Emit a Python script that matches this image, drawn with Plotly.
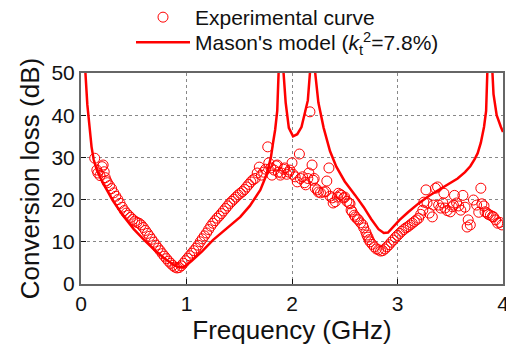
import plotly.graph_objects as go

# Experimental curve (frequency in GHz, conversion loss in dB)
exp_f = [0.13, 0.15, 0.16, 0.18, 0.20, 0.21, 0.22, 0.23, 0.24,
         0.25, 0.27, 0.29, 0.31, 0.33, 0.35, 0.37, 0.39, 0.41, 0.43, 0.45, 0.47, 0.49,
         0.51, 0.53, 0.55, 0.57, 0.59, 0.61, 0.63, 0.65, 0.67, 0.69, 0.71, 0.73, 0.75,
         0.77, 0.79, 0.81, 0.83, 0.85, 0.87, 0.89, 0.91, 0.93, 0.95, 0.97, 0.99, 1.01,
         1.03, 1.05, 1.07, 1.09, 1.11, 1.13, 1.15, 1.17, 1.19, 1.21, 1.23, 1.25, 1.27,
         1.29, 1.31, 1.33, 1.35, 1.37, 1.39, 1.41, 1.43, 1.45, 1.47, 1.49, 1.51, 1.53,
         1.55, 1.57, 1.59, 1.61, 1.63, 1.65, 1.67, 1.69, 1.71, 1.73,
         1.75, 1.77, 1.78, 1.80, 1.81, 1.83, 1.85, 1.86, 1.87, 1.89, 1.90, 1.92, 1.93,
         1.95, 1.97, 1.98, 2.00, 2.01, 2.03, 2.05, 2.07, 2.08, 2.10, 2.12, 2.13, 2.15,
         2.16, 2.17, 2.19, 2.20, 2.21, 2.22, 2.24, 2.25, 2.27, 2.30, 2.32, 2.33, 2.35,
         2.36, 2.38, 2.39, 2.41, 2.43, 2.44, 2.46, 2.47, 2.49, 2.50, 2.52, 2.54, 2.55,
         2.56, 2.57, 2.59, 2.60, 2.62, 2.63, 2.65, 2.67, 2.68, 2.70, 2.71, 2.72, 2.73,
         2.74, 2.76, 2.78, 2.80, 2.82, 2.84, 2.86, 2.88, 2.90, 2.92, 2.94, 2.96, 2.98,
         3.00, 3.02, 3.04, 3.06, 3.08, 3.10, 3.12, 3.14, 3.16, 3.18, 3.20, 3.22, 3.24,
         3.25, 3.27, 3.28, 3.30, 3.33, 3.34, 3.36, 3.38, 3.39, 3.41, 3.43, 3.44, 3.45,
         3.47, 3.50, 3.52, 3.53, 3.54, 3.56, 3.58, 3.60, 3.62, 3.64, 3.66, 3.67, 3.69,
         3.72, 3.75, 3.77, 3.79, 3.80, 3.82, 3.83, 3.85, 3.86, 3.88, 3.90, 3.91, 3.93,
         3.95, 3.97, 3.99]
exp_db = [29.8, 27.0, 26.3, 25.7, 27.8, 28.2, 26.6, 25.2, 24.5,
          24.0, 23.3, 22.6, 21.6, 20.8, 20.0, 19.1, 18.2, 17.4, 16.8, 16.3, 15.8, 15.3,
          14.9, 14.6, 14.4, 14.0, 13.4, 12.7, 12.0, 11.3, 10.6, 9.9, 9.2, 8.5, 7.9,
          7.2, 6.6, 6.0, 5.4, 4.9, 4.4, 4.0, 3.8, 3.9, 4.3, 4.9, 5.5, 6.1,
          6.7, 7.3, 7.9, 8.5, 9.2, 10.0, 10.7, 11.4, 12.1, 12.9, 13.7, 14.4, 15.0,
          15.6, 16.1, 16.7, 17.3, 17.9, 18.5, 19.1, 19.6, 20.1, 20.6, 21.1, 21.5, 21.9,
          22.4, 23.0, 23.6, 24.2, 24.7, 25.0, 26.3, 27.7, 25.8, 26.5,
          27.2, 32.5, 28.7, 27.5, 25.8, 27.0, 28.0, 28.2, 26.5, 25.8, 26.3, 27.2, 27.5,
          26.0, 26.5, 27.0, 28.7, 26.0, 25.4, 24.2, 30.8, 25.0, 25.4, 24.0, 23.5, 25.0,
          26.3, 40.8, 28.2, 24.6, 25.0, 22.7, 22.3, 21.8, 21.6, 21.8, 21.9, 24.4, 27.5,
          20.8, 20.4, 19.2, 19.5, 20.6, 21.5, 21.2, 21.0, 20.4, 20.6, 19.6, 19.2, 19.0,
          17.5, 17.1, 16.3, 15.9, 15.4, 15.2, 14.5, 14.0, 13.3, 12.3, 11.6, 11.1, 10.5,
          10.0, 9.4, 8.8, 8.3, 8.1, 7.8, 7.9, 8.3, 8.8, 9.3, 9.9, 10.4, 11.0,
          11.5, 12.0, 12.5, 12.9, 13.3, 13.6, 14.0, 14.4, 14.8, 15.2, 15.6, 16.5, 17.5,
          19.4, 22.3, 19.2, 16.8, 15.9, 18.7, 22.7, 23.0, 18.7, 18.0, 19.2, 21.5, 18.0,
          17.4, 17.1, 18.3, 18.7, 21.0, 19.2, 18.5, 17.5, 21.0, 18.2, 13.5, 15.2, 14.0,
          19.9, 18.7, 17.0, 22.7, 19.0, 18.5, 17.1, 16.8, 16.5, 16.3, 16.0, 15.9, 15.2,
          14.4, 14.6, 14.0]

# Mason's model (kt^2 = 7.8 %)
model_f = [0.03, 0.04, 0.05, 0.06, 0.08, 0.10, 0.12, 0.15, 0.20, 0.25, 0.30, 0.40,
           0.50, 0.60, 0.70, 0.80, 0.88, 0.93, 0.98, 1.05, 1.15, 1.25, 1.35, 1.45,
           1.51, 1.60, 1.70, 1.76, 1.80, 1.82, 1.84, 1.86, 1.88, 1.89, 1.90, 1.91,
           1.92, 1.94, 1.97, 2.01, 2.05, 2.09, 2.13, 2.15, 2.17, 2.185, 2.195, 2.205,
           2.22, 2.25, 2.30, 2.36, 2.42, 2.50, 2.55, 2.60, 2.68, 2.75, 2.82, 2.87,
           2.91, 2.96, 3.02, 3.10, 3.20, 3.30, 3.40, 3.50, 3.57, 3.64, 3.69, 3.73,
           3.76, 3.79, 3.82, 3.84, 3.86, 3.87, 3.88, 3.89, 3.90, 3.91, 3.94, 3.98, 4.00]
model_db = [55.0, 50.0, 46.0, 42.5, 37.5, 32.5, 29.5, 27.0, 24.3, 22.0, 19.8, 16.2,
            13.0, 10.4, 8.0, 5.9, 4.5, 3.9, 4.1, 5.5, 7.8, 10.4, 12.6, 14.6,
            15.9, 18.5, 22.3, 26.0, 30.0, 33.4, 36.5, 41.0, 50.0, 62.0, 90.0, 62.0,
            50.0, 43.0, 37.0, 35.0, 35.5, 37.2, 41.0, 43.5, 50.0, 65.0, 90.0, 65.0,
            50.0, 43.0, 37.0, 31.5, 27.8, 24.3, 22.7, 21.0, 18.2, 15.4, 13.0, 12.1,
            12.2, 13.5, 15.2, 17.0, 19.1, 20.9, 22.4, 23.8, 25.0, 26.5, 27.9, 29.5,
            31.0, 33.5, 37.2, 41.0, 50.0, 65.0, 90.0, 65.0, 50.0, 45.0, 40.0, 37.2, 36.0]

x_ticks = [0, 1, 2, 3, 4]
y_ticks = [0, 10, 20, 30, 40, 50]

RED = "#ff0000"
FONT = "Liberation Sans, Arial, sans-serif"
TXT = "#111111"

# plot-area pixel geometry (used to place legends in paper coordinates)
L, R, T, B, W, H = 81, 3, 73, 65, 506, 349
PW, PH = W - L - R, H - T - B


def px_x(p):
    return (p - L) / PW


def px_y(p):
    return (H - B - p) / PH


fig = go.Figure()
fig.add_trace(go.Scatter(
    x=exp_f, y=exp_db, mode="markers", name="Experimental curve",
    marker=dict(symbol="circle-open", size=10, color=RED, line=dict(width=1, color=RED)),
    legend="legend",
))
fig.add_trace(go.Scatter(
    x=model_f, y=model_db, mode="lines",
    name="Mason's model (<i>k</i><sub>t</sub><sup>2</sup>=7.8%)",
    line=dict(color=RED, width=2.5),
    legend="legend2",
))

axis_common = dict(
    showline=True, linecolor="#666666", linewidth=2, mirror=True,
    ticks="inside", ticklen=5, tickcolor=TXT, tickwidth=1,
    showgrid=True, gridcolor="#888888", gridwidth=1, griddash="dot",
    zeroline=False, tickfont=dict(size=21, color=TXT, family=FONT),
    ticklabeloverflow="allow", automargin=False,
)

fig.update_xaxes(range=[0, 4], tickvals=x_ticks, ticktext=[str(v) for v in x_ticks],
                 title=dict(text="Frequency (GHz)", font=dict(size=26, color=TXT, family=FONT), standoff=6),
                 **axis_common)
fig.update_yaxes(range=[0, 50], tickvals=y_ticks, ticktext=[str(v) for v in y_ticks],
                 title=dict(text="Conversion loss (dB)", font=dict(size=26, color=TXT, family=FONT), standoff=4),
                 **axis_common)

leg_common = dict(xanchor="left", yanchor="top", bgcolor="rgba(0,0,0,0)", borderwidth=0,
                  font=dict(size=21, color=TXT, family=FONT), itemwidth=54)

fig.update_layout(
    width=W, height=H,
    margin=dict(l=L, r=R, t=T, b=B, autoexpand=False),
    paper_bgcolor="white", plot_bgcolor="white",
    showlegend=True,
    legend=dict(x=px_x(131), y=px_y(-3), **leg_common),
    legend2=dict(x=px_x(131), y=px_y(22), **leg_common),
    font=dict(family=FONT),
)

fig.write_html("out.html")
